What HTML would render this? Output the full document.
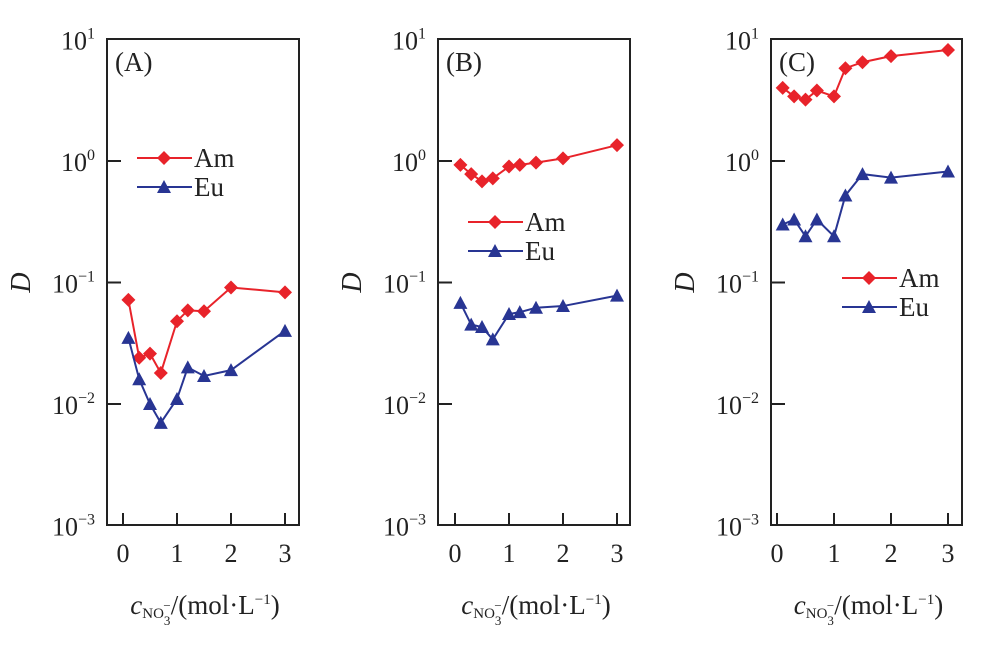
<!DOCTYPE html>
<html><head><meta charset="utf-8"><style>
body{margin:0;background:#fff;}
svg text{font-family:"Liberation Serif",serif;fill:#222;}
</style></head><body>
<svg id="c" width="1000" height="647" viewBox="0 0 1000 647"></svg>
<script>
const xVals=[0.1,0.3,0.5,0.7,1.0,1.2,1.5,2.0,3.0];
const amA=[0.072,0.024,0.026,0.018,0.048,0.059,0.058,0.091,0.083];
const euA=[0.035,0.016,0.010,0.007,0.011,0.020,0.017,0.019,0.040];
const amB=[0.93,0.78,0.68,0.72,0.9,0.93,0.97,1.05,1.35];
const euB=[0.068,0.045,0.043,0.034,0.055,0.057,0.062,0.064,0.078];
const amC=[4.0,3.4,3.2,3.8,3.4,5.8,6.5,7.3,8.2];
const euC=[0.30,0.33,0.24,0.33,0.24,0.52,0.78,0.73,0.82];
const xTicks=[0,1,2,3];
const yExps=[1,0,-1,-2,-3];
const panelLabels=["(A)","(B)","(C)"];
const NS="http://www.w3.org/2000/svg";
const svg=document.getElementById('c');
function mk(t,a,p){const e=document.createElementNS(NS,t);for(const k in a)e.setAttribute(k,a[k]);(p||svg).appendChild(e);return e;}
const panels=[
 {L:107,R:299,x0:123,ppu:54,am:amA,eu:euA,leg:[137,158]},
 {L:438,R:630,x0:455,ppu:54,am:amB,eu:euB,leg:[468,222]},
 {L:771,R:962,x0:777,ppu:57,am:amC,eu:euC,leg:[842,278]}];
const T=39,B=525;
function yS(v){return 161-Math.log10(v)*121.5;}
function diamond(g,x,y,name){const p=mk('polygon',{points:`${x},${y-7} ${x+7},${y} ${x},${y+7} ${x-7},${y}`,fill:'#e8232a'},g);}
function tri(g,x,y,name){const p=mk('polygon',{points:`${x},${y-7} ${x+7},${y+6} ${x-7},${y+6}`,fill:'#283593'},g);}
panels.forEach((P,i)=>{
 const g=mk('g',{});
 const xS=v=>P.x0+v*P.ppu;
 const f=mk('rect',{x:P.L,y:T,width:P.R-P.L,height:B-T,fill:'none',stroke:'#222','stroke-width':2},g);
 
 yExps.forEach(e=>{const y=yS(Math.pow(10,e));
  if(e<1&&e>-3)mk('line',{x1:P.L,x2:P.L+14,y1:y,y2:y,stroke:'#222','stroke-width':2},g);
  const t=mk('text',{x:P.L-12,y:y+10,'text-anchor':'end','font-size':26},g);
  
  t.textContent='10';const s=mk('tspan',{dy:-11,'font-size':16},t);s.textContent=e<0?'\u2212'+(-e):String(e);});
 xTicks.forEach(v=>{const x=xS(v);mk('line',{x1:x,x2:x,y1:B,y2:B-12,stroke:'#222','stroke-width':2},g);
  const t=mk('text',{x:x,y:B+37,'text-anchor':'middle','font-size':26},g);
  t.textContent=v;});
 const pl=mk('text',{x:P.L+8,y:T+32,'font-size':27},g);pl.textContent=panelLabels[i];
 const yl=mk('text',{x:0,y:0,'font-size':28,'font-style':'italic',transform:`translate(${P.L-77},${yS(0.1)}) rotate(-90)`,'text-anchor':'middle'},g);
 yl.textContent='D';
 const xt=mk('text',{x:(P.L+P.R)/2+2,y:614,'text-anchor':'middle','font-size':27},g);
 
 const c=mk('tspan',{'font-style':'italic'},xt);c.textContent='c';
 const s1=mk('tspan',{'font-size':15,dy:4},xt);s1.textContent='NO';
 const s2=mk('tspan',{'font-size':13,dy:7},xt);s2.textContent='3';
 const s2b=mk('tspan',{'font-size':13,dx:-7,dy:-15},xt);s2b.textContent='\u2212';
 const s3=mk('tspan',{dy:4},xt);s3.textContent='/(mol\u00b7L';
 const s4=mk('tspan',{'font-size':15,dy:-10},xt);s4.textContent='\u22121';
 const s5=mk('tspan',{dy:10},xt);s5.textContent=')';
 [[P.am,'#e8232a',diamond,'am'],[P.eu,'#283593',tri,'eu']].forEach(([d,col,fn,nm])=>{
  const pts=xVals.map((v,k)=>[xS(v),yS(d[k])]);
  const l=mk('polyline',{points:pts.map(p=>p.join(',')).join(' '),fill:'none',stroke:col,'stroke-width':2},g);
  
  pts.forEach(p=>fn(g,p[0],p[1],nm+'-point'));});
 const [lx,ly]=P.leg;
 [['Am','#e8232a',diamond,0],['Eu','#283593',tri,29]].forEach(([n,col,fn,dy])=>{
  const lg=mk('g',{},g);
  mk('line',{x1:lx,x2:lx+55,y1:ly+dy,y2:ly+dy,stroke:col,'stroke-width':2},lg);
  fn(lg,lx+27,ly+dy,'legend-marker');
  const t=mk('text',{x:lx+57,y:ly+dy+9,'font-size':27},lg);t.textContent=n;});
});
</script>
</body></html>
